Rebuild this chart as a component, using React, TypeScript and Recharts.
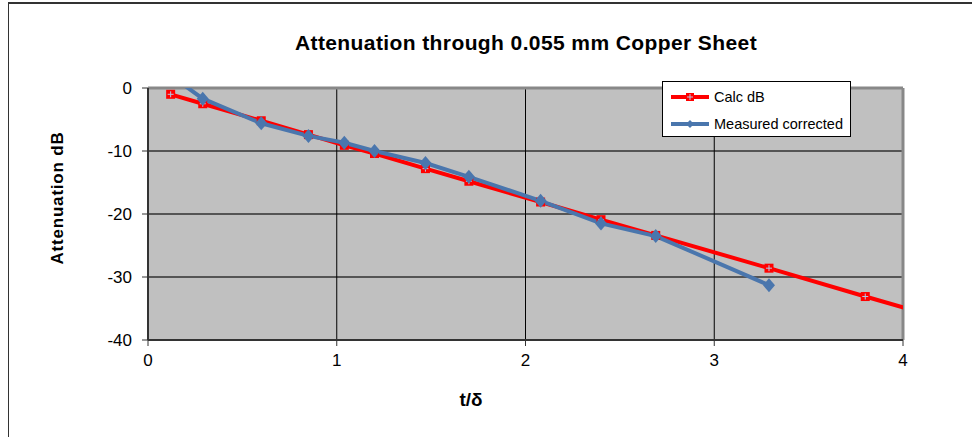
import { LineChart, Line, XAxis, YAxis, CartesianGrid, ReferenceLine, Label } from 'recharts';

const calcX = [0.12, 0.29, 0.6, 0.85, 1.04, 1.2, 1.47, 1.7, 2.08, 2.4, 2.69, 3.29, 3.8, 4.3];
const calcDb = [-1.0, -2.5, -5.2, -7.4, -9.1, -10.4, -12.8, -14.8, -18.1, -20.9, -23.4, -28.6, -33.1, -37.4];

const measX = [0.12, 0.29, 0.6, 0.85, 1.04, 1.2, 1.47, 1.7, 2.08, 2.4, 2.69, 3.29];
const measDb = [2.0, -1.7, -5.6, -7.6, -8.7, -10.0, -11.9, -14.1, -17.9, -21.5, -23.5, -31.3];

const xTicks = [0, 1, 2, 3, 4];
const yTicks = [-40, -30, -20, -10, 0];

const calcData = calcX.map((x, i) => ({ x, db: calcDb[i] }));
const measData = measX.map((x, i) => ({ x, db: measDb[i] }));

const FONT = '"Liberation Sans", Arial, sans-serif';
const RED = '#FF0000';
const BLUE = '#4A76AD';

const CalcDot = (props: any) => {
  const { cx, cy, index } = props;
  if (cx == null || cy == null) return <g key={index} />;
  return (
    <g key={index}>
      <rect x={cx - 4.5} y={cy - 4.5} width={9} height={9} fill={RED} />
      <path d={`M${cx - 3},${cy}H${cx + 3}M${cx},${cy - 3}V${cy + 3}`} stroke="#B4C8E4" strokeWidth={1} />
    </g>
  );
};

const MeasDot = (props: any) => {
  const { cx, cy, index } = props;
  if (cx == null || cy == null) return <g key={index} />;
  return <path key={index} d={`M${cx},${cy - 7}L${cx + 6},${cy}L${cx},${cy + 7}L${cx - 6},${cy}Z`} fill={BLUE} />;
};

// legend drawn by hand so it does not take room from the plot
const LegendBox = () => (
  <div
    style={{
      position: 'absolute', left: 662, top: 81,
      width: 189, height: 56, boxSizing: 'border-box', border: '1px solid #000', background: '#fff',
      fontFamily: FONT, fontSize: 14.5, color: '#000', padding: '4px 0 0 8px',
    }}
  >
    {[
      { name: 'Calc dB', color: RED, marker: 'sq' },
      { name: 'Measured corrected', color: BLUE, marker: 'dia' },
    ].map(it => (
      <div key={it.name} style={{ display: 'flex', alignItems: 'center', height: 22, marginBottom: 5 }}>
        <svg width={40} height={12} style={{ marginRight: 3 }}>
          <line x1={0} y1={6} x2={38} y2={6} stroke={it.color} strokeWidth={4} />
          {it.marker === 'sq'
            ? <g><rect x={15} y={2} width={8} height={8} fill={RED} /><path d="M16,6H22M19,3V9" stroke="#B4C8E4" /></g>
            : <path d="M19,2L23,6L19,10L15,6Z" fill={BLUE} />}
        </svg>
        <span>{it.name}</span>
      </div>
    ))}
  </div>
);

const YTitle = ({ viewBox }: any) => (
  <text
    x={viewBox.x + 63}
    y={viewBox.y + 110}
    transform={`rotate(-90 ${viewBox.x + 63} ${viewBox.y + 110})`}
    textAnchor="middle"
    fontFamily={FONT}
    fontWeight="bold"
    fontSize={17}
    letterSpacing={0.8}
    fill="#000"
  >
    Attenuation dB
  </text>
);

const XTitle = ({ viewBox }: any) => (
  <text
    x={viewBox.x + 323}
    y={viewBox.y + 66}
    textAnchor="middle"
    fontFamily={FONT}
    fontWeight="bold"
    fontSize={19}
    fill="#000"
  >
    t/δ
  </text>
);

export default function App() {
  return (
    <div style={{ position: 'absolute', left: 0, top: 0, width: 972, height: 437, overflow: 'hidden', background: '#fff' }}>
      <div style={{ position: 'absolute', left: 8, top: 2, width: 1200, height: 800, borderTop: '2px solid #333', borderLeft: '1px solid #333' }} />
      <div
        style={{
          position: 'absolute', left: 0, width: 1052, top: 31, textAlign: 'center',
          fontFamily: FONT, fontWeight: 'bold', fontSize: 21, letterSpacing: 0.4, color: '#000',
        }}
      >
        Attenuation through 0.055 mm Copper Sheet
      </div>
      <LineChart
        width={972}
        height={437}
        margin={{ top: 88, right: 69, bottom: 0, left: 0 }}
        style={{ position: 'absolute', left: 0, top: 0 }}
      >
        <CartesianGrid fill="#C0C0C0" vertical={false} stroke="#555" strokeWidth={2} />
        <CartesianGrid horizontal={false} stroke="#000" strokeWidth={1} />
        <XAxis
          dataKey="x"
          type="number"
          domain={[0, 4]}
          ticks={xTicks}
          allowDataOverflow
          height={97}
          tickSize={6}
          tickMargin={8}
          axisLine={{ stroke: '#333', strokeWidth: 2 }}
          tickLine={{ stroke: '#333' }}
          tick={{ fill: '#000', fontSize: 17, fontFamily: FONT }}
        >
          <Label content={<XTitle />} />
        </XAxis>
        <YAxis
          dataKey="db"
          type="number"
          domain={[-40, 0]}
          ticks={yTicks}
          allowDataOverflow
          width={148}
          tickSize={6}
          tickMargin={10}
          axisLine={{ stroke: '#333', strokeWidth: 2 }}
          tickLine={{ stroke: '#333' }}
          tick={{ fill: '#000', fontSize: 17, fontFamily: FONT }}
        >
          <Label content={<YTitle />} />
        </YAxis>
        <ReferenceLine y={0} stroke="#888" strokeWidth={3} />
        <ReferenceLine x={4} stroke="#888" strokeWidth={3} />
        <Line
          data={calcData}
          dataKey="db"
          name="Calc dB"
          stroke={RED}
          strokeWidth={4}
          dot={<CalcDot />}
          activeDot={false}
          isAnimationActive={false}
        />
        <Line
          data={measData}
          dataKey="db"
          name="Measured corrected"
          stroke={BLUE}
          strokeWidth={4}
          dot={<MeasDot />}
          activeDot={false}
          isAnimationActive={false}
        />
      </LineChart>
      <LegendBox />
    </div>
  );
}
